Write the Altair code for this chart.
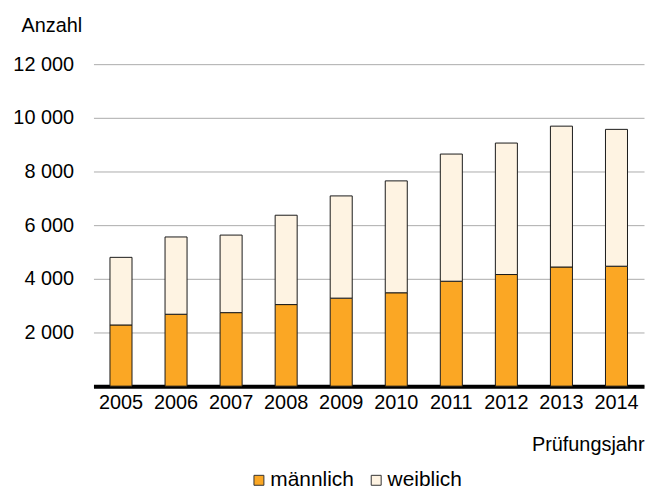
import altair as alt
import pandas as pd

years = ["2005", "2006", "2007", "2008", "2009", "2010", "2011", "2012", "2013", "2014"]
maennlich = [2280, 2680, 2740, 3040, 3280, 3480, 3910, 4160, 4440, 4470]
weiblich = [2520, 2880, 2890, 3330, 3810, 4170, 4740, 4900, 5250, 5100]
series = ["männlich", "weiblich"]
colors = ["#FBA724", "#FEF3E2"]
y_ticks = [0, 2000, 4000, 6000, 8000, 10000, 12000]

rows = []
for i, y in enumerate(years):
    rows.append({"Jahr": y, "Geschlecht": series[0], "Anzahl": maennlich[i], "ord": 0})
    rows.append({"Jahr": y, "Geschlecht": series[1], "Anzahl": weiblich[i], "ord": 1})
df = pd.DataFrame(rows)

FONT = "Liberation Sans"

chart = alt.Chart(df).mark_bar(stroke="#1a1a1a", strokeWidth=1).encode(
    x=alt.X(
        "Jahr:N",
        sort=years,
        scale=alt.Scale(paddingInner=0.6, paddingOuter=0.3),
        axis=alt.Axis(
            title="Prüfungsjahr",
            labelAngle=0,
            domainColor="black",
            domainWidth=4,
            ticks=False,
            labelPadding=6,
            labelFontSize=20,
            labelColor="black",
            labelFont=FONT,
            titleFont=FONT,
            titleFontSize=20,
            titleFontWeight="normal",
            titleColor="black",
            titleAnchor="end",
            titleAlign="right",
            titleBaseline="alphabetic",
            titleX=554,
            titleY=65,
        ),
    ),
    y=alt.Y(
        "Anzahl:Q",
        stack="zero",
        scale=alt.Scale(domain=[0, 12000]),
        axis=alt.Axis(
            title="Anzahl",
            values=y_ticks,
            domain=False,
            ticks=False,
            grid=True,
            gridColor="#ABABAB",
            gridWidth=1,
            labelPadding=20,
            labelFontSize=20,
            labelFont=FONT,
            labelColor="black",
            labelExpr="datum.value == 0 ? '' : replace(format(datum.value, ','), ',', ' ')",
            titleFont=FONT,
            titleFontSize=20,
            titleFontWeight="normal",
            titleColor="black",
            titleAngle=0,
            titleAlign="left",
            titleBaseline="alphabetic",
            titleX=-73,
            titleY=-33,
        ),
    ),
    color=alt.Color(
        "Geschlecht:N",
        scale=alt.Scale(domain=series, range=colors),
        legend=alt.Legend(
            title=None,
            orient="none",
            direction="horizontal",
            legendX=156,
            legendY=408,
            symbolType="square",
            symbolSize=100,
            symbolStrokeColor="#333333",
            symbolStrokeWidth=1,
            labelFontSize=21,
            labelFont=FONT,
            labelColor="black",
            labelOffset=1,
            columnPadding=11,
        ),
    ),
    order=alt.Order("ord:Q"),
).properties(
    width=554,
    height=324,
    autosize=alt.AutoSizeParams(type="none"),
    padding={"left": 86, "top": 55, "right": 2, "bottom": 105},
).configure_view(stroke=None)

chart.save("out.html", embed_options={"renderer": "svg", "actions": False})
